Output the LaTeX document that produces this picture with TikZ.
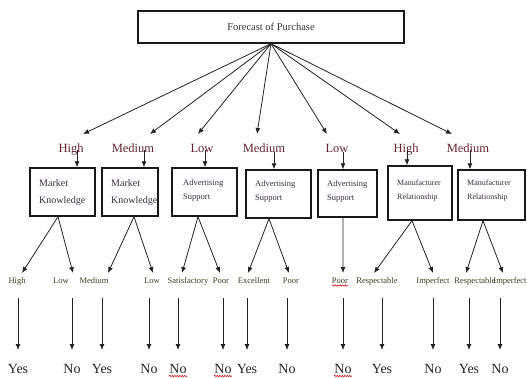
\documentclass[tikz,border=0pt]{standalone}
\usepackage{fontspec}
\setmainfont{Liberation Serif}
\usetikzlibrary{arrows.meta,decorations.pathmorphing}
\definecolor{lblred}{RGB}{100,35,50}
\definecolor{leafc}{RGB}{60,60,35}
\definecolor{boxtxt}{RGB}{55,45,60}
\definecolor{linec}{RGB}{35,35,35}
\begin{document}
\begin{tikzpicture}[x=1bp,y=-1bp,
  arr/.style={draw=linec, line width=0.8bp, -{Latex[length=6bp,width=5bp]}},
  seg/.style={draw=linec, line width=0.8bp},
  bx/.style={draw=black!90, line width=1.4bp, fill=white, inner sep=0pt},
  bxtext/.style={anchor=north west, align=left, inner sep=0pt, text=boxtxt},
  lvl/.style={anchor=base, inner sep=0pt, text=lblred, font=\fontsize{12.5bp}{14bp}\selectfont},
  leaf/.style={anchor=base, inner sep=0pt, text=leafc, font=\fontsize{8.5bp}{10bp}\selectfont},
  yn/.style={anchor=base, inner sep=0pt, text=black!85, font=\fontsize{14bp}{16bp}\selectfont},
  squig/.style={draw=red!80!black, line width=0.5bp, decorate, decoration={snake, amplitude=0.7bp, segment length=2.5bp}}
]
\useasboundingbox (0,0) rectangle (527,377);
\fill[white] (0,0) rectangle (527,377);

% root
\node[bx, minimum width=266bp, minimum height=32bp] (root) at (271,27)
  {\fontsize{10.5bp}{12bp}\selectfont\color{black!80} Forecast of Purchase};

% level-1 labels
\node[lvl] (l1) at (71,152) {High};
\node[lvl] (l2) at (133,152) {Medium};
\node[lvl] (l3) at (202,152) {Low};
\node[lvl] (l4) at (264,152) {Medium};
\node[lvl] (l5) at (337,152) {Low};
\node[lvl] (l6) at (406,152) {High};
\node[lvl] (l7) at (468,152) {Medium};

% arrow tips at level 1
\coordinate (t1) at (83,134);
\coordinate (t2) at (150,134);
\coordinate (t3) at (198,134);
\coordinate (t4) at (257,134);
\coordinate (t5) at (327,134);
\coordinate (t6) at (400,134);
\coordinate (t7) at (452,134);
\foreach \i in {1,...,7} \draw[arr] (root.south) -- (t\i);

% boxes
\node[bx, minimum width=65bp, minimum height=48bp] (b1) at (62.5,192) {};
\node[bx, minimum width=56bp, minimum height=48bp] (b2) at (130,192) {};
\node[bx, minimum width=65bp, minimum height=48bp] (b3) at (204.5,192) {};
\node[bx, minimum width=65bp, minimum height=48bp] (b4) at (278.5,194) {};
\node[bx, minimum width=59bp, minimum height=47bp] (b5) at (347.5,193.5) {};
\node[bx, minimum width=64bp, minimum height=54bp] (b6) at (420,193) {};
\node[bx, minimum width=67bp, minimum height=50bp] (b7) at (491.5,195) {};

\node[bxtext, font=\fontsize{10bp}{16.5bp}\selectfont] (bt1) at (39,179.5) {Market\\Knowledge};
\node[bxtext, font=\fontsize{10bp}{16.5bp}\selectfont] (bt2) at (111,179.5) {Market\\Knowledge};
\node[bxtext, font=\fontsize{8.5bp}{14bp}\selectfont] (bt3) at (183,179) {Advertising\\Support};
\node[bxtext, font=\fontsize{8.5bp}{14bp}\selectfont] (bt4) at (255,180) {Advertising\\Support};
\node[bxtext, font=\fontsize{8.5bp}{14bp}\selectfont] (bt5) at (327,180) {Advertising\\Support};
\node[bxtext, font=\fontsize{8bp}{14bp}\selectfont] (bt6) at (397,180) {Manufacturer\\Relationship};
\node[bxtext, font=\fontsize{8bp}{14bp}\selectfont] (bt7) at (467,180) {Manufacturer\\Relationship};

% label -> box arrows
\draw[arr] (77,150) -- (b1.north -| 77,0);
\draw[arr] (144,150) -- (b2.north -| 144,0);
\draw[arr] (205,150) -- (b3.north -| 205,0);
\draw[arr] (274,152) -- (b4.north -| 274,0);
\draw[arr] (343,152) -- (b5.north -| 343,0);
\draw[arr] (407,150) -- (b6.north -| 407,0);
\draw[arr] (470,150) -- (b7.north -| 470,0);

% leaf labels
\node[leaf] (f1) at (17,283) {High};
\node[leaf] (f2) at (61,283) {Low};
\node[leaf] (f3) at (94,283) {Medium};
\node[leaf] (f4) at (152,283) {Low};
\node[leaf] (f5) at (188,283) {Satisfactory};
\node[leaf] (f6) at (221,283) {Poor};
\node[leaf] (f7) at (254,283) {Excellent};
\node[leaf] (f8) at (291,283) {Poor};
\node[leaf] (f9) at (340,283) {Poor};
\node[leaf] (f10) at (377,283) {Respectable};
\node[leaf] (f11) at (433,283) {Imperfect};
\node[leaf] (f12) at (475,283) {Respectable};
\node[leaf] (f13) at (510,283) {Imperfect};

% box -> leaf connectors
\coordinate (k1) at (22,273);  \coordinate (k2) at (73,273);
\coordinate (k3) at (108,273); \coordinate (k4) at (153,273);
\coordinate (k5) at (182,273); \coordinate (k6) at (220,273);
\coordinate (k7) at (248,273); \coordinate (k8) at (289,273);
\coordinate (k9) at (343,273);
\coordinate (k10) at (374,273); \coordinate (k11) at (433,273);
\coordinate (k12) at (466,273); \coordinate (k13) at (503,273);
\draw[arr] ([xshift=-4.5bp]b1.south) -- (k1);
\draw[arr] ([xshift=-4.5bp]b1.south) -- (k2);
\draw[arr] ([xshift=4bp]b2.south) -- (k3);
\draw[arr] ([xshift=4bp]b2.south) -- (k4);
\draw[arr] ([xshift=-6.5bp]b3.south) -- (k5);
\draw[arr] ([xshift=-6.5bp]b3.south) -- (k6);
\draw[arr] ([xshift=-9.5bp]b4.south) -- (k7);
\draw[arr] ([xshift=-9.5bp]b4.south) -- (k8);
\draw[arr] ([xshift=-4.5bp]b5.south) -- (k9);
\draw[arr] ([xshift=-8bp]b6.south) -- (k10);
\draw[arr] ([xshift=-8bp]b6.south) -- (k11);
\draw[arr] ([xshift=-8.5bp]b7.south) -- (k12);
\draw[arr] ([xshift=-8.5bp]b7.south) -- (k13);

% final outcomes
\foreach \n/\x/\t in {1/18/Yes,2/72/No,3/102/Yes,4/149/No,5/178/No,6/223/No,7/247/Yes,
  8/287/No,9/343/No,10/382/Yes,11/433/No,12/469/Yes,13/500/No}{
  \node[yn] (y\n) at (\x,373) {\t};
  \coordinate (s\n) at (\x,298);
  \draw[arr] (s\n) -- (\x,350);
}

% spell-check underlines
\draw[squig] ([xshift=-9bp,yshift=-3bp]y5.base) -- ([xshift=9bp,yshift=-3bp]y5.base);
\draw[squig] ([xshift=-9bp,yshift=-3bp]y6.base) -- ([xshift=9bp,yshift=-3bp]y6.base);
\draw[squig] ([xshift=-9bp,yshift=-3bp]y9.base) -- ([xshift=9bp,yshift=-3bp]y9.base);
\draw[squig] ([xshift=-8bp,yshift=-2.5bp]f9.base) -- ([xshift=8bp,yshift=-2.5bp]f9.base);
\end{tikzpicture}
\end{document}
